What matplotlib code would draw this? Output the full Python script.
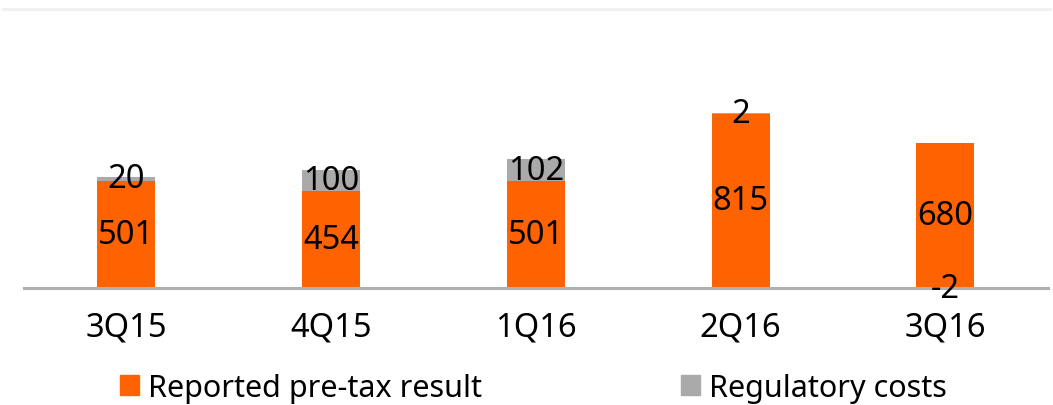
import matplotlib.pyplot as plt
from matplotlib.lines import Line2D
from matplotlib.patches import Patch

quarters = ['3Q15', '4Q15', '1Q16', '2Q16', '3Q16']
pretax = [501, 454, 501, 815, 680]
regulatory = [20, 100, 102, 2, -2]

orange = '#FF6200'
grey = '#AAAAAA'

plt.rcParams['font.family'] = ['Noto Sans', 'DejaVu Sans']

fig = plt.figure(figsize=(10.53, 4.06), dpi=100)
ax = fig.add_axes([24 / 1053, 117 / 406, 1023.75 / 1053, 279 / 406])

x = range(len(quarters))
# regulatory costs sit on top of positive results, negative ones hang below zero
reg_bottom = [p if r > 0 else 0 for p, r in zip(pretax, regulatory)]

b1 = ax.bar(x, pretax, width=0.283, color=orange, zorder=2)
b2 = ax.bar(x, regulatory, bottom=reg_bottom, width=0.283, color=grey, zorder=2)

ax.bar_label(b1, labels=[str(v) for v in pretax], label_type='center', fontsize=23.5, zorder=5)
ax.bar_label(b2, labels=[str(v) for v in regulatory], label_type='center', fontsize=23.5, zorder=5)

ax.set_xlim(-0.5, 4.5)
ax.set_ylim(0, 1306)
ax.set_xticks(list(x))
ax.set_xticklabels(quarters, fontsize=23.5)
ax.tick_params(axis='x', length=0, pad=16)
ax.set_yticks([])
for side in ['left', 'right', 'top']:
    ax.spines[side].set_visible(False)
ax.spines['bottom'].set_color('#AFAFAF')
ax.spines['bottom'].set_linewidth(2.2)
ax.spines['bottom'].set_zorder(3)

# faint rule along the top of the chart
fig.add_artist(Line2D([3 / 1053, 1050 / 1053], [1 - 10 / 406, 1 - 10 / 406],
                      color='#F0F0F0', linewidth=2))

handles = [Patch(color=orange, label='Reported pre-tax result'),
           Patch(color=grey, label='Regulatory costs')]
fig.legend(handles=handles, loc='center left', bbox_to_anchor=(120 / 1053, 1 - 389 / 406),
           ncol=2, frameon=False, fontsize=22, handlelength=0.62, handleheight=0.62,
           handletextpad=0.3, columnspacing=6.5, borderpad=0, borderaxespad=0)

fig.savefig('out.png', dpi=100)
